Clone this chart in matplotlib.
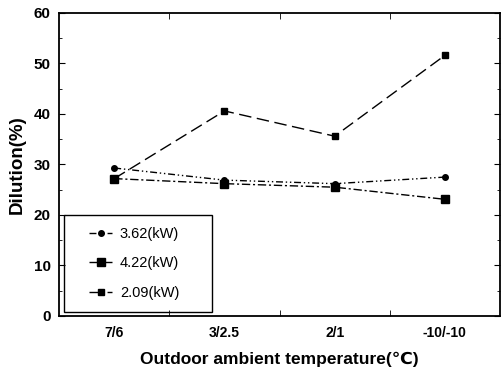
import matplotlib.pyplot as plt
from matplotlib.patches import Rectangle
from matplotlib.ticker import MultipleLocator, FixedLocator

plt.rcParams["font.family"] = ["Liberation Sans", "DejaVu Sans"]

categories = ["7/6", "3/2.5", "2/1", "-10/-10"]
dilution_362 = [29.3, 26.9, 26.2, 27.5]
dilution_422 = [27.2, 26.2, 25.5, 23.1]
dilution_209 = [27.2, 40.6, 35.6, 51.6]


def plot_dilution():
    fig = plt.figure(figsize=(5.01, 3.70), dpi=100)
    ax = fig.add_axes([0.118, 0.146, 0.88, 0.819])
    x = range(len(categories))

    ax.plot(x, dilution_362, color="black", lw=1.0, marker="o", ms=4,
            dashes=[5, 2, 1, 2, 1, 2], label="3.62(kW)")
    ax.plot(x, dilution_422, color="black", lw=1.0, marker="s", ms=6,
            dashes=[6, 2, 1.5, 2], label="4.22(kW)")
    ax.plot(x, dilution_209, color="black", lw=1.0, marker="s", ms=4.5,
            dashes=[9, 4], label="2.09(kW)")

    ax.set_xlim(-0.5, 3.5)
    ax.set_ylim(0, 60)
    ax.set_xticks(list(x))
    ax.set_xticklabels(categories, fontweight="bold", fontsize=10)
    ax.xaxis.set_minor_locator(FixedLocator([0.5, 1.5, 2.5]))
    ax.tick_params(axis="x", which="major", length=0, pad=7)
    ax.tick_params(axis="x", which="minor", direction="in", length=4, top=True)
    ax.yaxis.set_major_locator(MultipleLocator(10))
    ax.yaxis.set_minor_locator(MultipleLocator(5))
    ax.tick_params(axis="y", which="both", direction="in", right=True, labelsize=11)
    ax.tick_params(axis="y", which="major", length=4, pad=6)
    ax.tick_params(axis="y", which="minor", length=2)
    for lbl in ax.get_yticklabels():
        lbl.set_fontweight("bold")
    for spine in ax.spines.values():
        spine.set_linewidth(1.3)

    ax.set_xlabel("Outdoor ambient temperature(℃)", fontweight="bold", fontsize=12.5, labelpad=9)
    ax.set_ylabel("Dilution(%)", fontweight="bold", fontsize=13.5, labelpad=6)

    leg = ax.legend(loc="lower left", bbox_to_anchor=(0.045, 0.02), fontsize=10.5,
                    handlelength=1.6, labelspacing=1.05, borderpad=0.2,
                    handletextpad=0.5, frameon=False)

    # legend box with wider side padding than the default frame allows
    fig.canvas.draw()
    bb = leg.get_window_extent().transformed(ax.transAxes.inverted())
    ax.add_patch(Rectangle((0.012, 0.012), bb.x1 + 0.068 - 0.012, bb.y1 + 0.03 - 0.012,
                           transform=ax.transAxes, fill=False, edgecolor="black",
                           lw=1.0, zorder=5))

    fig.savefig("out.png", dpi=100)


if __name__ == "__main__":
    plot_dilution()
